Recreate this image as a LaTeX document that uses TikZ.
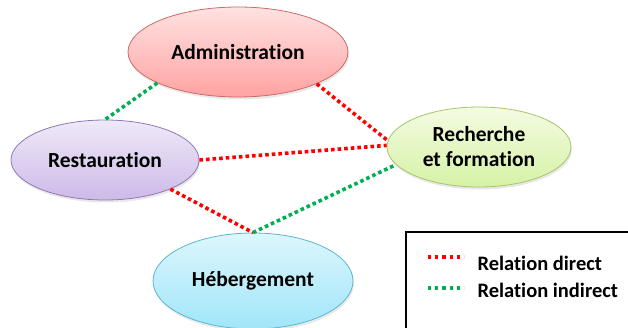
\documentclass[tikz,border=0pt]{standalone}
\usepackage{fontspec}
\setmainfont{Carlito}[Ligatures=NoCommon]
\usetikzlibrary{shapes.geometric,shadows}
\definecolor{rougebord}{HTML}{CC6A6A}
\definecolor{rougehaut}{HTML}{FFE2E2}
\definecolor{rougebas}{HTML}{FFA2A2}
\definecolor{violetbord}{HTML}{9078B8}
\definecolor{violethaut}{HTML}{EFE9F8}
\definecolor{violetbas}{HTML}{CDBAE8}
\definecolor{vertbord}{HTML}{A6C46A}
\definecolor{verthaut}{HTML}{F4FBE2}
\definecolor{vertbas}{HTML}{D6F2A6}
\definecolor{bleubord}{HTML}{5CB6D0}
\definecolor{bleuhaut}{HTML}{DDF6FD}
\definecolor{bleubas}{HTML}{A0E6F9}
\definecolor{vertrel}{HTML}{00B050}
\begin{document}
\begin{tikzpicture}[x=1pt,y=1pt,
    bulle/.style={ellipse,draw,line width=0.8pt,inner sep=0pt,align=center,
      font=\fontsize{21.5}{23}\selectfont\bfseries,
      drop shadow={opacity=0.18,shadow xshift=1pt,shadow yshift=-2.5pt}},
    direct/.style={red,line width=3.6pt,dash pattern=on 3.6pt off 3pt},
    indirect/.style={vertrel,line width=3.6pt,dash pattern=on 3.6pt off 3pt}]
  \useasboundingbox (0,0) rectangle (628,327);
  % les quatre services
  \node[bulle,color=rougebord,text=black,top color=rougehaut,bottom color=rougebas,
    minimum width=220,minimum height=90] (admin) at (238,275) {Administration};
  \node[bulle,color=violetbord,text=black,top color=violethaut,bottom color=violetbas,
    minimum width=188,minimum height=80] (resto) at (105,167) {Restauration};
  \node[bulle,color=vertbord,text=black,top color=verthaut,bottom color=vertbas,
    minimum width=184,minimum height=80] (recherche) at (479,180) {Recherche\\[2pt]et formation};
  \node[bulle,color=bleubord,text=black,top color=bleuhaut,bottom color=bleubas,
    minimum width=200,minimum height=96] (heberg) at (253,46) {Hébergement};
  % relations directes
  \draw[direct] (admin.338) -- (recherche.176);
  \draw[direct] (resto.east) -- (recherche.179);
  \draw[direct] (resto.336) -- (heberg.north);
  % relations indirectes
  \draw[indirect] (admin.201) -- (resto.north);
  \draw[indirect] (heberg.north) -- (recherche.192);
  % légende
  \draw[line width=1.6pt] (406,-20) rectangle (660,95);
  \coordinate (d1) at (428,70);
  \coordinate (d2) at (464,70);
  \coordinate (i1) at (428,39);
  \coordinate (i2) at (464,39);
  \draw[direct,line width=3.2pt,dash pattern=on 3.2pt off 4pt] (d1) -- (d2);
  \draw[indirect,line width=3.2pt,dash pattern=on 3.2pt off 4pt] (i1) -- (i2);
  \node[anchor=west,font=\fontsize{20.5}{22}\selectfont\bfseries] (tdirect) at (474,64) {Relation direct};
  \node[anchor=west,font=\fontsize{20.5}{22}\selectfont\bfseries] (tindirect) at (474,37) {Relation indirect};
\end{tikzpicture}
\end{document}
